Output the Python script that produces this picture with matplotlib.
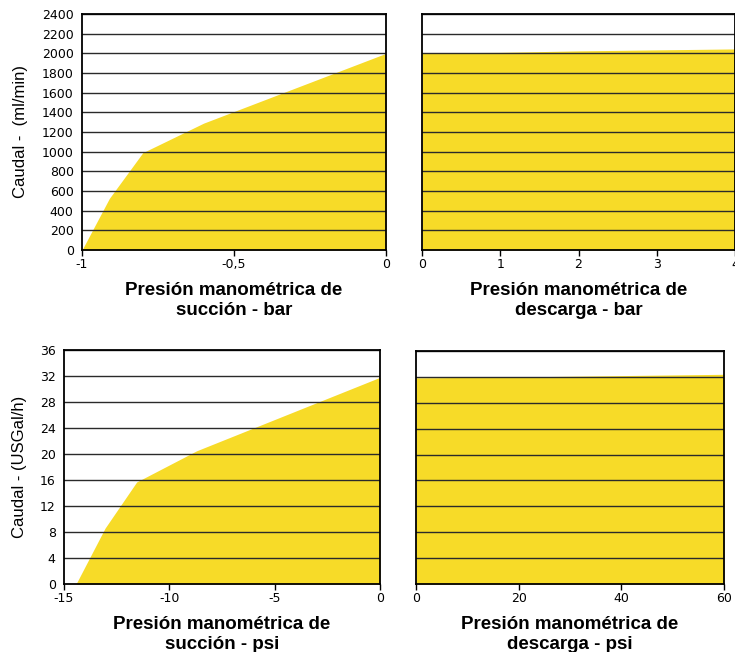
import matplotlib.pyplot as plt
import numpy as np

plt.rcParams['font.family'] = ['Liberation Sans', 'DejaVu Sans']

# curvas de caudal
suc_bar_x = [-1.0, -0.91, -0.80, -0.60, 0.0]
suc_bar_y = [0, 525, 990, 1290, 2000]
des_bar_x = [0, 1, 2, 3, 4]
des_bar_y = [2005, 2010, 2025, 2035, 2045]
suc_psi_x = [-14.43, -13.05, -11.55, -8.70, 0.0]
suc_psi_y = [0, 8.6, 15.7, 20.5, 31.8]
des_psi_x = [0, 20, 40, 60]
des_psi_y = [31.85, 32.0, 32.2, 32.4]

yticks_ml = np.arange(0, 2401, 200)
yticks_gal = np.arange(0, 37, 4)

YELLOW = '#F7DB28'
W, H = 735, 652
TICKFONT = dict(family='DejaVu Sans', size=9)

fig = plt.figure(figsize=(W / 100, H / 100), dpi=100)


def make_ax(l, r, t, b):
    return fig.add_axes([l / W, 1 - b / H, (r - l) / W, (b - t) / H])


def draw(ax, x, y, xlim, ylim, yticks, xticks, xticklabels, xlabel, show_y):
    ax.fill_between(x, 0, y, color=YELLOW, lw=0, zorder=1)
    for yt in yticks[1:]:
        ax.axhline(yt, color='#2a2a2a', lw=1.0, zorder=2)
    ax.set_xlim(*xlim)
    ax.set_ylim(*ylim)
    ax.set_yticks(yticks)
    ax.set_xticks(xticks)
    ax.set_xticklabels(xticklabels, fontdict=TICKFONT)
    if show_y:
        ax.set_yticklabels([str(v) for v in yticks], fontdict=TICKFONT)
    else:
        ax.set_yticklabels([])
    for s in ax.spines.values():
        s.set_linewidth(1.3)
        s.set_zorder(3)
    ax.tick_params(axis='x', length=4, width=1, pad=2)
    ax.tick_params(axis='y', length=0, pad=6)
    ax.set_xlabel(xlabel, fontsize=13.5, fontweight='bold', labelpad=8, linespacing=1.2)


ax1 = make_ax(82, 386, 14, 250)
draw(ax1, suc_bar_x, suc_bar_y, (-1, 0), (0, 2400), yticks_ml,
     [-1, -0.5, 0], ['-1', '-0,5', '0'], 'Presión manométrica de\nsucción - bar', True)
ax1.set_ylabel('Caudal -  (ml/min)', fontsize=12, labelpad=10)

ax2 = make_ax(422, 735, 14, 250)
draw(ax2, des_bar_x, des_bar_y, (0, 4), (0, 2400), yticks_ml,
     [0, 1, 2, 3, 4], ['0', '1', '2', '3', '4'], 'Presión manométrica de\ndescarga - bar', False)

ax3 = make_ax(64, 380, 350, 584)
draw(ax3, suc_psi_x, suc_psi_y, (-15, 0), (0, 36), yticks_gal,
     [-15, -10, -5, 0], ['-15', '-10', '-5', '0'], 'Presión manométrica de\nsucción - psi', True)
ax3.set_ylabel('Caudal - (USGal/h)', fontsize=12, labelpad=9)

ax4 = make_ax(416, 724, 351, 584)
draw(ax4, des_psi_x, des_psi_y, (0, 60), (0, 36), yticks_gal,
     [0, 20, 40, 60], ['0', '20', '40', '60'], 'Presión manométrica de\ndescarga - psi', False)

fig.savefig('out.png', dpi=100)
